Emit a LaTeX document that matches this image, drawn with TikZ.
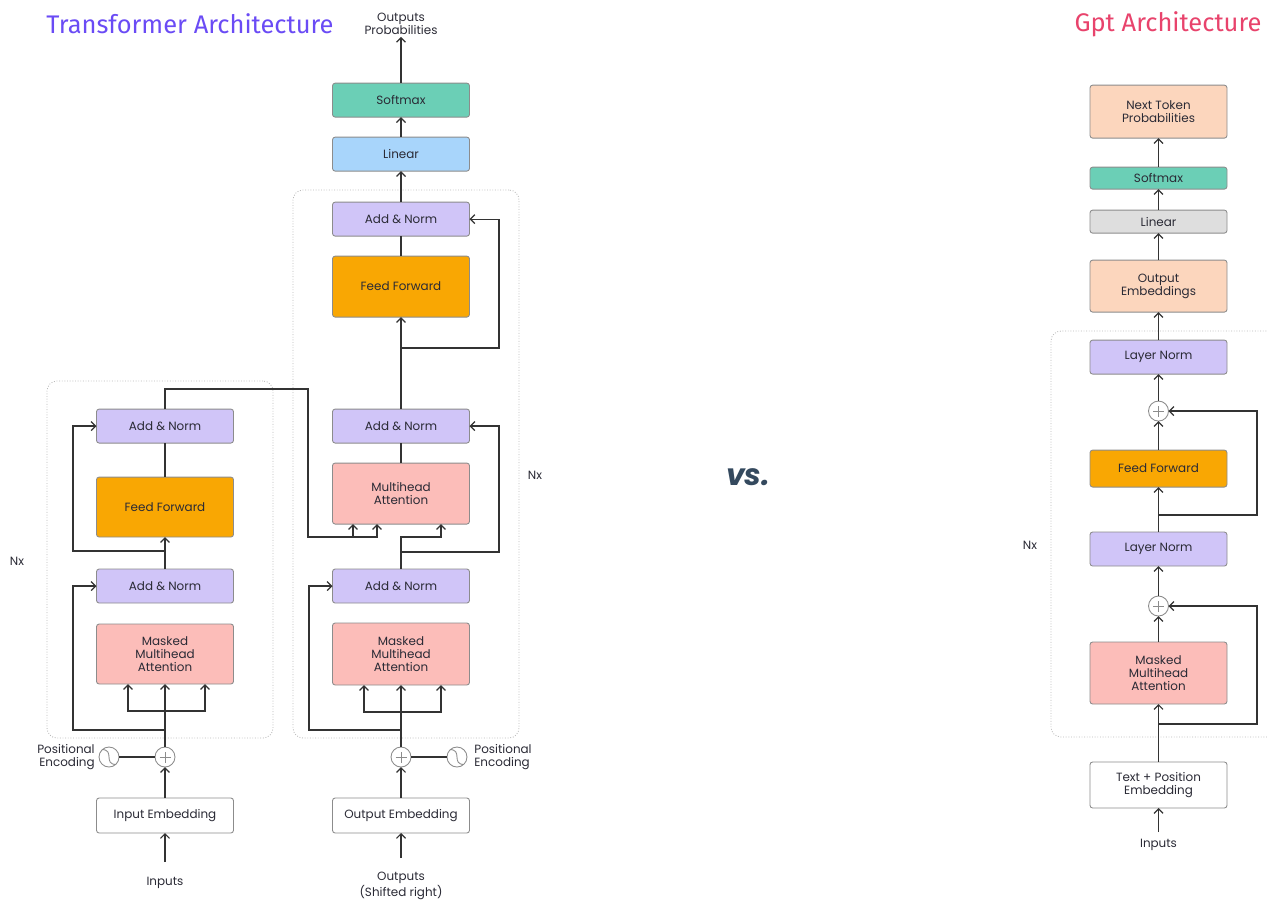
\documentclass[tikz,border=0pt]{standalone}
\usepackage{fontspec}
\setmainfont{Poppins}
\newfontfamily\titlefont{Fira Sans}
\usetikzlibrary{arrows.meta, positioning, calc, fit, backgrounds}

\definecolor{anfill}{HTML}{D0C5F8}
\definecolor{fffill}{HTML}{F9A703}
\definecolor{mhafill}{HTML}{FCBDB9}
\definecolor{smfill}{HTML}{6BCFB6}
\definecolor{linfill}{HTML}{A8D5FB}
\definecolor{glinfill}{HTML}{DEDEDE}
\definecolor{peachfill}{HTML}{FCD6BD}
\definecolor{boxline}{HTML}{8C8C8C}
\definecolor{wirecol}{HTML}{333333}
\definecolor{txt}{HTML}{2A2A35}
\definecolor{tfcolor}{HTML}{6A4BF5}
\definecolor{gptcolor}{HTML}{E8436C}
\definecolor{vscolor}{HTML}{34495E}

\begin{document}
\begin{tikzpicture}[
    x=0.02cm, y=-0.02cm,
    >={Straight Barb[length=0.9mm, width=1.8mm]},
    node distance=0.4cm,
    font=\fontsize{6.8}{7.4}\selectfont,
    % Define styles for the different node types
    wire/.style={draw=wirecol, line width=0.7pt},
    box/.style={rectangle, rounded corners=1.5pt, draw=boxline, line width=0.5pt, text=txt, align=center, minimum width=2.74cm, minimum height=0.68cm, inner sep=1pt, outer sep=0pt},
    purplebox/.style={box, fill=anfill},
    orangebox/.style={box, fill=fffill, minimum height=1.2cm},
    pinkbox/.style={box, fill=mhafill, minimum height=1.2cm},
    tealbox/.style={box, fill=smfill},
    bluebox/.style={box, fill=linfill},
    greybox/.style={box, fill=glinfill},
    peachbox/.style={box, fill=peachfill},
    whitebox/.style={box, fill=white},
    sumcircle/.style={circle, draw=boxline, fill=white, line width=0.5pt, minimum size=0.4cm, inner sep=0pt, outer sep=0pt,
        path picture={\draw[boxline, line width=0.4pt] ($(path picture bounding box.center)+(-0.11cm,0)$) -- ++(0.22cm,0)
            ($(path picture bounding box.center)+(0,-0.11cm)$) -- ++(0,0.22cm);}},
    sinecircle/.style={circle, draw=boxline, fill=white, line width=0.5pt, minimum size=0.4cm, inner sep=0pt, outer sep=0pt,
        path picture={\draw[boxline, line width=0.5pt] ($(path picture bounding box.center)+(-0.15cm,0.15cm)$)
            .. controls +(0.28cm,0cm) and +(-0.28cm,0cm) .. ++(0.3cm,-0.3cm);}},
    labeltext/.style={text=txt, align=center, inner sep=1pt},
    titletext/.style={font=\titlefont\fontsize{14.5}{16}\selectfont, inner sep=0pt},
    container/.style={rectangle, rounded corners=0.2cm, draw=gray!55, densely dotted, line width=0.5pt, inner sep=0pt},
]
\useasboundingbox (0,0) rectangle (1268,902);

% -------------------------
% Titles
% -------------------------
\node (tftitle) [titletext, text=tfcolor] at (190,24) {Transformer Architecture};
\node (gpttitle) [titletext, text=gptcolor] at (1168,24) {Gpt Architecture};
\node (vs) [font=\fontsize{17}{20}\selectfont\bfseries\itshape, text=vscolor] at (748,477) {vs.};

% -------------------------
% Transformer: left stack
% -------------------------
\node (inemb) [whitebox, minimum height=0.7cm] at (165,815.5) {Input Embedding};
\node (lplus) [sumcircle, above=0.62cm of inemb] {};
\node (lpe) [sinecircle, left=0.72cm of lplus] {};
\node (lpetext) [labeltext, align=right, inner sep=0pt, left=0.08cm of lpe] {Positional\\Encoding};
\node (lmmha) [pinkbox, above=1.26cm of lplus] {Masked\\Multihead\\Attention};
\node (lan1) [purplebox, above=0.42cm of lmmha] {Add \& Norm};
\node (lff) [orangebox, above=0.64cm of lan1] {Feed Forward};
\node (lan2) [purplebox, above=0.68cm of lff] {Add \& Norm};
\node (inputs) [labeltext] at (165,883) {Inputs};
\node (lnx) [labeltext] at (17,561) {Nx};

% -------------------------
% Transformer: right stack
% -------------------------
\node (outemb) [whitebox, minimum height=0.7cm] at (401,815.5) {Output Embedding};
\node (rplus) [sumcircle, above=0.62cm of outemb] {};
\node (rpe) [sinecircle, right=0.72cm of rplus] {};
\node (rpetext) [labeltext, align=left, inner sep=0pt, right=0.14cm of rpe] {Positional\\Encoding};
\node (rmmha) [pinkbox, minimum height=1.24cm, above=1.24cm of rplus] {Masked\\Multihead\\Attention};
\node (ran1) [purplebox, above=0.4cm of rmmha] {Add \& Norm};
\node (rmha) [pinkbox, minimum height=1.22cm, above=0.9cm of ran1] {Multihead\\Attention};
\node (ran2) [purplebox, above=0.4cm of rmha] {Add \& Norm};
\node (rff) [orangebox, minimum height=1.22cm, above=1.84cm of ran2] {Feed Forward};
\node (ran3) [purplebox, above=0.4cm of rff] {Add \& Norm};
\node (linear) [bluebox, above=0.62cm of ran3] {Linear};
\node (softmax) [tealbox, above=0.4cm of linear] {Softmax};
\node (outprob) [labeltext] at (401,24) {Outputs\\Probabilities};
\node (outputs) [labeltext, font=\fontsize{6.8}{7.2}\selectfont] at (401,886) {Outputs\\(Shifted right)};
\node (rnx) [labeltext] at (535,475) {Nx};

% -------------------------
% GPT stack
% -------------------------
\node (gemb) [whitebox, minimum height=0.92cm] at (1158.5,785) {Text + Position\\Embedding};
\node (gmmha) [pinkbox, minimum height=1.24cm, above=1.16cm of gemb] {Masked\\Multihead\\Attention};
\node (gplus1) [sumcircle, above=0.52cm of gmmha] {};
\node (gln1) [purplebox, above=0.6cm of gplus1] {Layer Norm};
\node (gff) [orangebox, minimum height=0.74cm, above=0.9cm of gln1] {Feed Forward};
\node (gplus2) [sumcircle, above=0.58cm of gff] {};
\node (gln2) [purplebox, above=0.54cm of gplus2] {Layer Norm};
\node (goutemb) [peachbox, minimum height=1.04cm, above=0.56cm of gln2] {Output\\Embeddings};
\node (glin) [greybox, minimum height=0.46cm, above=0.54cm of goutemb] {Linear};
\node (gsoft) [tealbox, minimum height=0.44cm, above=0.42cm of glin] {Softmax};
\node (gnext) [peachbox, minimum height=1.06cm, above=0.58cm of gsoft] {Next Token\\Probabilities};
\node (ginputs) [labeltext] at (1158.5,845) {Inputs};
\node (gnx) [labeltext] at (1030,545) {Nx};

% Container boxes
\begin{scope}[on background layer]
    \node (lgroup) [container, fit={(47,381) (273,738)}] {};
    \node (rgroup) [container, fit={(293,190) (519,738)}] {};
    \node (ggroup) [container, fit={(1051,331) (1300,737)}] {};
\end{scope}

% -------------------------
% Arrow Connections
% -------------------------
\coordinate (lrail) at (73,0);
\coordinate (rrail) at (309,0);
\coordinate (rrail2) at (499,0);
\coordinate (grail) at (1257,0);
\coordinate (xrail) at (308,537);

% left stack
\draw[wire, ->, shorten <=0.26cm] (inputs.north) -- (inemb.south);
\draw[wire, ->] (inemb) -- (lplus);
\draw[wire] (lpe) -- (lplus);
\draw[wire, ->] (lplus) -- (lmmha);
\coordinate (lb0) at ($(lmmha.south)+(0,27)$);
\draw[wire, ->] (lb0) -| ($(lmmha.south)+(-37,0)$);
\draw[wire, ->] (lb0) -| ($(lmmha.south)+(40,0)$);
\coordinate (lb1) at ($(lplus.north)+(0,-17)$);
\draw[wire, ->] (lb1) -| (lrail |- lan1.west) -- (lan1.west);
\draw[wire, ->] (lan1) -- (lff);
\coordinate (lb2) at ($(lff.south)+(0,14)$);
\draw[wire, ->] (lb2) -| (lrail |- lan2.west) -- (lan2.west);
\draw[wire] (lff) -- (lan2);

% left stack into right multihead attention
\coordinate (cross1) at ($(lan2.north)+(0,-20)$);
\coordinate (rin1) at ($(rmha.south)+(-48,0)$);
\coordinate (rin2) at ($(rmha.south)+(-24,0)$);
\coordinate (rin3) at ($(rmha.south)+(40,0)$);
\draw[wire, ->] (lan2.north) -- (cross1) -| (xrail) -| (rin2);
\draw[wire, ->] (xrail -| rin1) -- (rin1);

% right stack
\draw[wire, ->, shorten <=0.24cm] (outputs.north) -- (outemb.south);
\draw[wire, ->] (outemb) -- (rplus);
\draw[wire] (rpe) -- (rplus);
\draw[wire, ->] (rplus) -- (rmmha);
\coordinate (rb0) at ($(rmmha.south)+(0,27)$);
\draw[wire, ->] (rb0) -| ($(rmmha.south)+(-37,0)$);
\draw[wire, ->] (rb0) -| ($(rmmha.south)+(40,0)$);
\coordinate (rb1) at ($(rplus.north)+(0,-17)$);
\draw[wire, ->] (rb1) -| (rrail |- ran1.west) -- (ran1.west);
\draw[wire, ->] (ran1.north) -- (ran1.north |- xrail) -| (rin3);
\coordinate (rb2) at ($(ran1.north)+(0,-17)$);
\draw[wire, ->] (rb2) -| (rrail2 |- ran2.east) -- (ran2.east);
\draw[wire] (rmha) -- (ran2);
\draw[wire, ->] (ran2) -- (rff);
\coordinate (rb3) at ($(rff.south)+(0,31)$);
\draw[wire, ->] (rb3) -| (rrail2 |- ran3.east) -- (ran3.east);
\draw[wire] (rff) -- (ran3);
\draw[wire, ->] (ran3) -- (linear);
\draw[wire, ->] (linear) -- (softmax);
\draw[wire, ->] (softmax) -- (outprob);

% gpt stack
\draw[wire, ->, shorten <=0.1cm] (ginputs.north) -- (gemb.south);
\draw[wire, ->] (gemb) -- (gmmha);
\coordinate (gb1) at ($(gmmha.south)+(0,20)$);
\draw[wire, ->] (gb1) -| (grail |- gplus1.east) -- (gplus1.east);
\draw[wire, ->] (gmmha) -- (gplus1);
\draw[wire, ->] (gplus1) -- (gln1);
\draw[wire, ->] (gln1) -- (gff);
\coordinate (gb2) at ($(gff.south)+(0,28)$);
\draw[wire, ->] (gb2) -| (grail |- gplus2.east) -- (gplus2.east);
\draw[wire, ->] (gff) -- (gplus2);
\draw[wire, ->] (gplus2) -- (gln2);
\draw[wire, ->] (gln2) -- (goutemb);
\draw[wire, ->] (goutemb) -- (glin);
\draw[wire, ->] (glin) -- (gsoft);
\draw[wire, ->] (gsoft) -- (gnext);

\end{tikzpicture}
\end{document}
